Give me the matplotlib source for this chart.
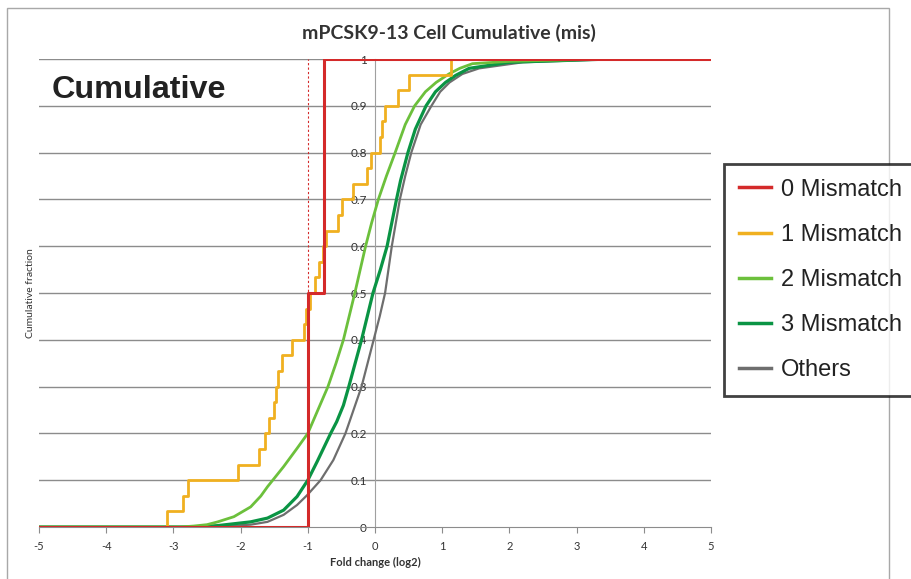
import numpy as np
import matplotlib.pyplot as plt
from matplotlib.patches import Rectangle
from matplotlib.ticker import FuncFormatter

plt.rcParams['axes.unicode_minus'] = False

# 0 Mismatch (2 guides) and 1 Mismatch (30 guides): sorted fold changes, step CDFs
mis0_x = [-1.0, -0.76]
mis1_x = [-3.09, -2.85, -2.78, -2.04, -1.73, -1.63, -1.57, -1.51, -1.48, -1.45,
          -1.39, -1.23, -1.06, -1.03, -0.96, -0.90, -0.84, -0.78, -0.725, -0.55,
          -0.49, -0.32, -0.12, -0.06, 0.07, 0.11, 0.15, 0.345, 0.51, 1.13]

# 2 / 3 Mismatch and Others: curves (x, cumulative fraction)
mis2_x = [-5.0, -2.9, -2.7, -2.5, -2.34, -2.10, -1.85, -1.70, -1.60, -1.36, -1.16,
          -1.0, -0.85, -0.70, -0.58, -0.47, -0.30, -0.14, -0.05, 0.05, 0.17, 0.30,
          0.45, 0.59, 0.75, 0.91, 1.10, 1.26, 1.45, 2.0, 3.4, 5.0]
mis2_y = [0.0, 0.0, 0.002, 0.005, 0.011, 0.022, 0.043, 0.066, 0.086, 0.129, 0.168,
          0.20, 0.25, 0.30, 0.35, 0.40, 0.50, 0.60, 0.65, 0.70, 0.75, 0.80,
          0.86, 0.90, 0.93, 0.95, 0.968, 0.98, 0.99, 0.995, 1.0, 1.0]

mis3_x = [-5.0, -2.7, -2.34, -1.85, -1.60, -1.36, -1.16, -1.0, -0.86, -0.66, -0.57,
          -0.47, -0.39, -0.20, -0.03, 0.08, 0.18, 0.32, 0.38, 0.49, 0.60, 0.76,
          0.90, 1.05, 1.20, 1.40, 2.0, 3.5, 5.0]
mis3_y = [0.0, 0.0, 0.003, 0.011, 0.019, 0.036, 0.065, 0.10, 0.14, 0.20, 0.225,
          0.26, 0.30, 0.40, 0.50, 0.55, 0.60, 0.70, 0.74, 0.80, 0.85, 0.90,
          0.93, 0.95, 0.965, 0.98, 0.993, 1.0, 1.0]

oth_x = [-5.0, -2.5, -2.10, -1.85, -1.60, -1.36, -1.16, -1.01, -0.81, -0.62, -0.44,
         -0.37, -0.20, -0.02, 0.07, 0.15, 0.25, 0.37, 0.45, 0.54, 0.68, 0.84, 0.97,
         1.11, 1.30, 1.55, 2.2, 3.6, 5.0]
oth_y = [0.0, 0.0, 0.003, 0.005, 0.011, 0.026, 0.047, 0.068, 0.10, 0.143, 0.20,
         0.229, 0.30, 0.40, 0.45, 0.50, 0.60, 0.70, 0.75, 0.80, 0.86, 0.90, 0.93,
         0.95, 0.968, 0.98, 0.993, 1.0, 1.0]

labels = ['0 Mismatch', '1 Mismatch', '2 Mismatch', '3 Mismatch', 'Others']
colors = ['#d42a2a', '#f0b020', '#6cc03c', '#0a9444', '#6e6e6e']


def step_cdf(xs, lo=-5, hi=5):
    xs = np.sort(np.asarray(xs, dtype=float))
    n = len(xs)
    x = np.concatenate([[lo], xs, [hi]])
    y = np.concatenate([[0], np.arange(1, n + 1) / n, [1]])
    return x, y


fig = plt.figure(figsize=(9.12, 5.79), dpi=100)
ax = fig.add_axes([39 / 912, 52 / 579, 672 / 912, 468 / 579])

ax.set_xlim(-5, 5)
ax.set_ylim(0, 1)

# gridlines
for g in np.arange(0.1, 1.01, 0.1):
    ax.axhline(g, color='#8c8c8c', lw=1, zorder=1)

# dotted reference line at -1
ax.plot([-1, -1], [0, 1], color='#d42a2a', lw=0.8, ls=(0, (2, 2)), zorder=2)

ax.plot(oth_x, oth_y, color=colors[4], lw=1.6, zorder=3)
ax.plot(mis3_x, mis3_y, color=colors[3], lw=2.3, zorder=4)
ax.plot(mis2_x, mis2_y, color=colors[2], lw=2.0, zorder=5)
x1, y1 = step_cdf(mis1_x)
ax.step(x1, y1, where='post', color=colors[1], lw=2.0, zorder=6)
x0, y0 = step_cdf(mis0_x)
ax.step(x0, y0, where='post', color=colors[0], lw=2.2, zorder=7)

# axes crossing at 0 (Excel style)
for s in ['top', 'right']:
    ax.spines[s].set_visible(False)
ax.spines['left'].set_position(('data', 0))
ax.spines['left'].set_color('#a0a0a0')
ax.spines['bottom'].set_color('#8c8c8c')
ax.spines['left'].set_zorder(1)

ax.set_xticks(range(-5, 6))
ax.set_yticks(np.arange(0, 1.01, 0.1))
ax.yaxis.set_major_formatter(FuncFormatter(lambda v, p: '{:g}'.format(round(v, 1))))
ax.tick_params(axis='x', direction='out', length=4, color='#8c8c8c', pad=6,
               labelsize=8, labelcolor='#333333')
ax.tick_params(axis='y', length=0, pad=6, labelsize=8.5, labelcolor='#333333')
for t in ax.get_xticklabels() + ax.get_yticklabels():
    t.set_family('Lato')

# chart area border
fig.patches.append(Rectangle((7.5 / 912, -0.02), 882 / 912, 1.0 - 8 / 579 + 0.02,
                             transform=fig.transFigure, fill=False,
                             edgecolor='#a8a8a8', lw=1, zorder=0))

fig.text(449 / 912, 1 - 33 / 579, 'mPCSK9-13 Cell Cumulative (mis)', ha='center',
         va='center', fontsize=14, fontweight='bold', family='Lato', color='#333333')
fig.text(52 / 912, 1 - 98 / 579, 'Cumulative', ha='left', va='baseline',
         fontsize=23.3, fontweight='bold', family='Liberation Sans', color='#222222')
fig.text(31 / 912, 1 - 293 / 579, 'Cumulative fraction', rotation=90, ha='center',
         va='center', fontsize=7.5, family='Lato', color='#333333')
fig.text(375 / 912, 1 - 562 / 579, 'Fold change (log2)', ha='center', va='center',
         fontsize=8, fontweight='bold', family='Lato', color='#333333')

# legend
handles = [plt.Line2D([], [], color=c, lw=2.5) for c in colors]
leg = fig.legend(handles, labels, loc='upper left', bbox_to_anchor=(724 / 912, 1 - 164 / 579),
                 bbox_transform=fig.transFigure, borderaxespad=0, frameon=True,
                 fancybox=False, prop={'family': 'Liberation Sans', 'size': 17},
                 handlelength=1.35, handletextpad=0.45, labelspacing=0.98,
                 borderpad=0.62)
leg.get_frame().set_edgecolor('#111111')
leg.get_frame().set_linewidth(2)
for t in leg.get_texts():
    t.set_color('#222222')

fig.savefig('out.png', dpi=100)
